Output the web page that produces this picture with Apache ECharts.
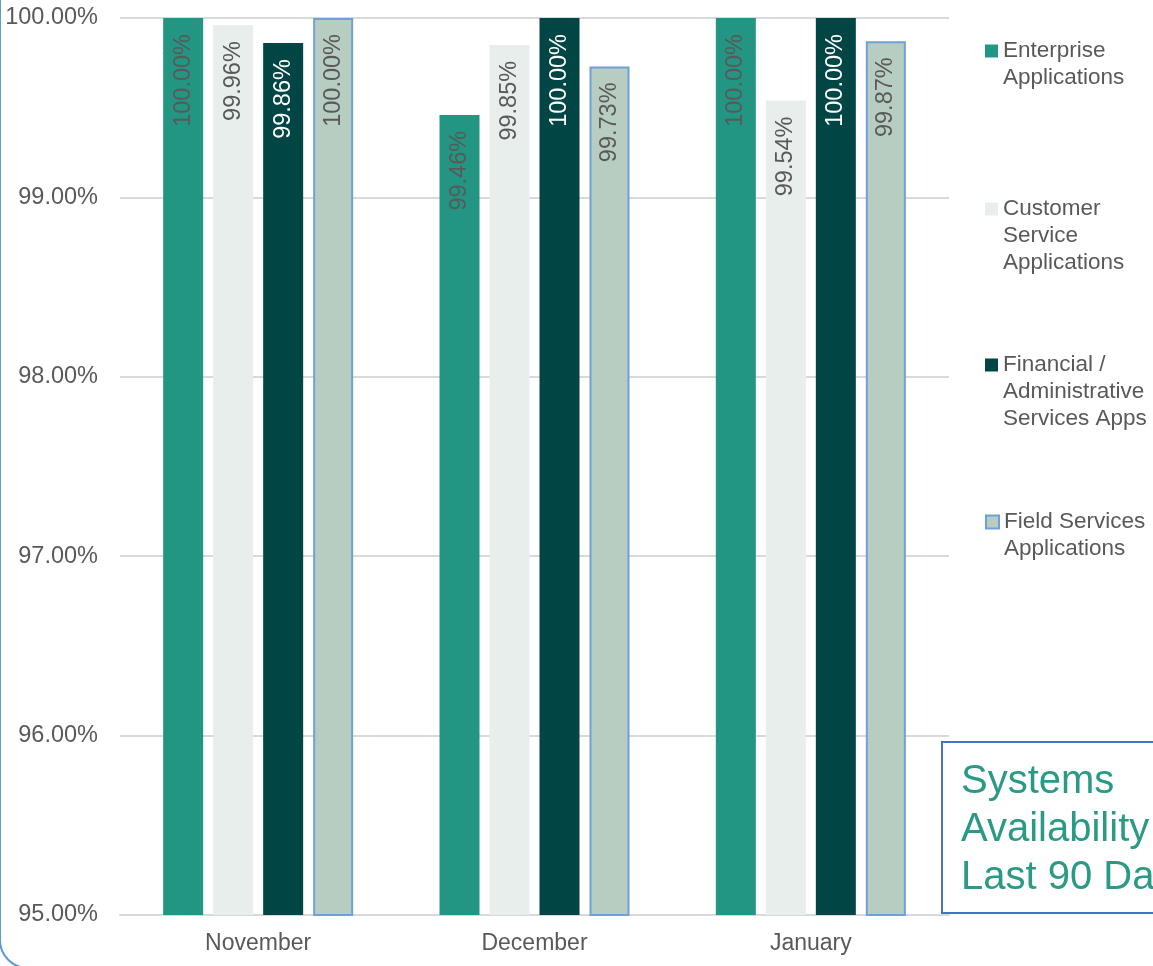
<!DOCTYPE html>
<html>
<head>
<meta charset="utf-8">
<script src="https://cdn.jsdelivr.net/npm/echarts@6/dist/echarts.min.js"></script>
<style>html,body{margin:0;padding:0;background:#fff;}#c{width:1153px;height:966px;}</style>
</head>
<body>
<div id="c"></div>
<script>
var categories = ['November', 'December', 'January'];
var seriesNames = ['Enterprise\nApplications', 'Customer\nService\nApplications', 'Financial /\nAdministrative\nServices Apps', 'Field Services\nApplications'];
var enterprise = [100.00, 99.46, 100.00];
var customer = [99.96, 99.85, 99.54];
var financial = [99.86, 100.00, 100.00];
var field = [100.00, 99.73, 99.87];
var yTicks = [95, 96, 97, 98, 99, 100];
var titleText = 'Systems\nAvailability\nLast 90 Days';

var FONT = '"Liberation Sans", Arial, sans-serif';
var colors = ['#229683', '#e7eeeb', '#014545', '#b7cdc1'];
var labelColors = ['#595959', '#595959', '#ffffff', '#595959'];
var values = [enterprise, customer, financial, field];
var lineCounts = seriesNames.map(function (n) { return n.split('\n').length; });
var LH = 27;
var legendFirstLineY = [46, 204, 360, 517];

var chart = echarts.init(document.getElementById('c'));

var series = values.map(function (v, i) {
  var s = {
    name: seriesNames[i],
    type: 'bar',
    data: v,
    barWidth: 40,
    barGap: '25%',
    itemStyle: { color: colors[i] },
    label: {
      show: true,
      position: 'insideTop',
      distance: 16,
      rotate: 90,
      align: 'right',
      verticalAlign: 'middle',
      color: labelColors[i],
      fontFamily: FONT,
      fontSize: 23.5,
      formatter: function (p) { return p.value.toFixed(2) + '%'; }
    }
  };
  if (i === 3) {
    s.itemStyle.borderColor = '#6fa0d8';
    s.itemStyle.borderWidth = 2;
  }
  return s;
});

var legends = seriesNames.map(function (n, i) {
  var nl = lineCounts[i];
  var total = (2 * nl - 1) * LH;
  return {
    orient: 'vertical',
    left: 980,
    top: legendFirstLineY[i] - total / 2,
    itemWidth: 13,
    itemHeight: 13,
    itemGap: 0,
    icon: 'rect',
    selectedMode: false,
    data: [n],
    textStyle: {
      color: '#595959',
      fontFamily: FONT,
      fontSize: 22.5,
      lineHeight: LH
    },
    formatter: function (name) {
      var pre = '';
      for (var k = 1; k < nl; k++) pre += '\u00a0\n';
      return pre + name;
    }
  };
});

chart.setOption({
  animation: false,
  backgroundColor: '#ffffff',
  grid: { left: 120, right: 204, top: 18, bottom: 51, containLabel: false },
  legend: legends,
  xAxis: {
    type: 'category',
    data: categories,
    axisLine: { show: true, lineStyle: { color: '#d9d9d9', width: 2 } },
    axisTick: { show: false },
    axisLabel: { color: '#595959', fontFamily: FONT, fontSize: 23, margin: 17 }
  },
  yAxis: {
    type: 'value',
    min: yTicks[0],
    max: yTicks[yTicks.length - 1],
    interval: 1,
    axisLine: { show: false },
    axisTick: { show: false },
    splitLine: { lineStyle: { color: '#d9d9d9', width: 2 } },
    axisLabel: {
      color: '#595959', fontFamily: FONT, fontSize: 23.5, margin: 22,
      formatter: function (v) { return v.toFixed(2) + '%'; }
    }
  },
  series: series,
  graphic: [
    {
      type: 'rect',
      shape: { x: 942, y: 742, width: 300, height: 171 },
      style: { fill: '#ffffff', stroke: '#4472c4', lineWidth: 2 },
      z: 10
    },
    {
      type: 'text',
      x: 961,
      y: 758,
      style: {
        text: titleText,
        fill: '#2a9a85',
        font: '40px ' + FONT,
        lineHeight: 48
      },
      z: 11
    },
    {
      type: 'rect',
      shape: { x: 0, y: -40, width: 1200, height: 1008, r: 28 },
      style: { fill: 'none', stroke: '#5b9bd5', lineWidth: 2 },
      silent: true,
      z: 12
    }
  ]
});
</script>
</body>
</html>
